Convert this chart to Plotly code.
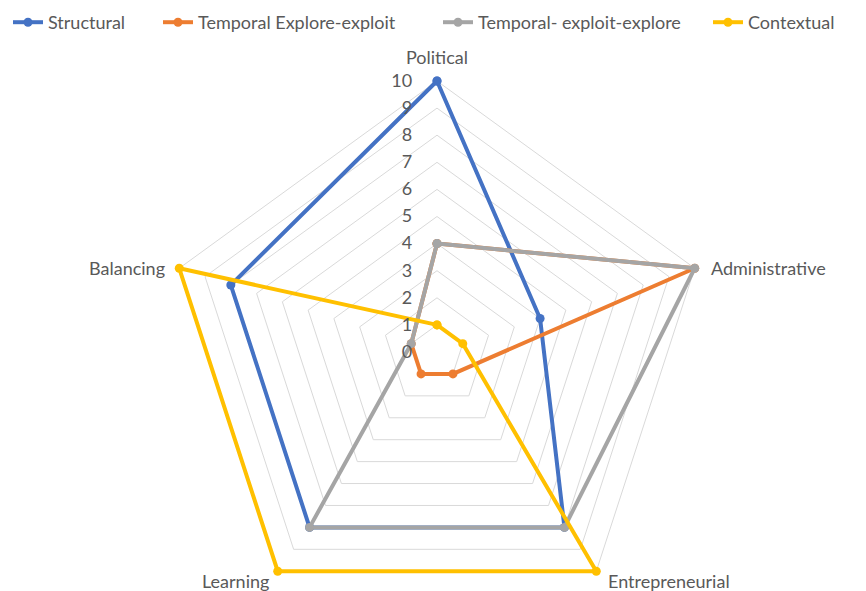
import math
import plotly.graph_objects as go

categories = ["Political", "Administrative", "Entrepreneurial", "Learning", "Balancing"]
structural = [10, 4, 8, 8, 8]
temporal_explore_exploit = [4, 10, 1, 1, 1]
temporal_exploit_explore = [4, 10, 8, 8, 1]
contextual = [1, 1, 10, 10, 10]
radial_ticks = list(range(0, 11))

series = [
    ("Structural", structural, "#4472C4"),
    ("Temporal Explore-exploit", temporal_explore_exploit, "#ED7D31"),
    ("Temporal- exploit-explore", temporal_exploit_explore, "#A5A5A5"),
    ("Contextual", contextual, "#FFC000"),
]

W, H = 866, 650
cx, cy, R = 437, 352, 271
RMAX = 10.2          # small headroom so lines on the outer ring are not clipped
RF = R * RMAX / 10   # pixel radius of the whole polar area
TXT = "#595959"
FONT = "Lato"

legend_x_px = [8, 158, 438, 708]
legend_names = ["legend", "legend2", "legend3", "legend4"]

fig = go.Figure()
for (name, vals, color), lg in zip(series, legend_names):
    fig.add_trace(go.Scatterpolar(
        r=vals + vals[:1],
        theta=categories + categories[:1],
        name=name,
        mode="lines+markers",
        line=dict(color=color, width=4),
        marker=dict(color=color, size=9),
        cliponaxis=False,
        legend=lg,
    ))

layout_legends = {}
for lg, lx in zip(legend_names, legend_x_px):
    layout_legends[lg] = dict(orientation="h", x=lx / W, y=1 - 4 / H, xanchor="left", yanchor="top",
                              font=dict(family=FONT, size=18, color=TXT), itemwidth=30,
                              bgcolor="rgba(0,0,0,0)")

# category labels placed beside each vertex of the outer pentagon
label_offsets = [(0, -24, "center"), (14, 0, "left"), (10, 10, "left"), (-7, 10, "right"), (-12, 0, "right")]
annotations = []
for i, (cat, (dx, dy, anchor)) in enumerate(zip(categories, label_offsets)):
    ang = math.radians(i * 360 / len(categories))
    vx = cx + R * math.sin(ang)
    vy = cy - R * math.cos(ang)
    annotations.append(dict(text=cat, x=(vx + dx) / W, y=1 - (vy + dy) / H, xref="paper", yref="paper",
                            xanchor=anchor, yanchor="middle", showarrow=False,
                            font=dict(family=FONT, size=18, color=TXT)))

fig.update_layout(
    width=W, height=H,
    margin=dict(l=0, r=0, t=0, b=0),
    paper_bgcolor="white",
    font=dict(family=FONT, size=18, color=TXT),
    showlegend=True,
    annotations=annotations,
    polar=dict(
        domain=dict(x=[(cx - RF) / W, (cx + RF) / W], y=[1 - (cy + RF) / H, 1 - (cy - RF) / H]),
        bgcolor="white",
        gridshape="linear",
        angularaxis=dict(direction="clockwise", rotation=90, showgrid=False,
                         showline=False, ticks="", showticklabels=False),
        radialaxis=dict(range=[0, RMAX], tickvals=radial_ticks, showline=False,
                        ticks="outside", ticklen=18, tickcolor="rgba(0,0,0,0)",
                        angle=90, side="counterclockwise", tickangle=90,
                        gridcolor="#d9d9d9", gridwidth=1,
                        tickfont=dict(family=FONT, size=18, color=TXT)),
    ),
    **layout_legends,
)

fig.write_html("out.html", config={"displayModeBar": False}, post_script=(
    "document.body.style.margin='0';"
    "document.body.style.overflow='hidden';"
    "document.documentElement.style.overflow='hidden';"))
